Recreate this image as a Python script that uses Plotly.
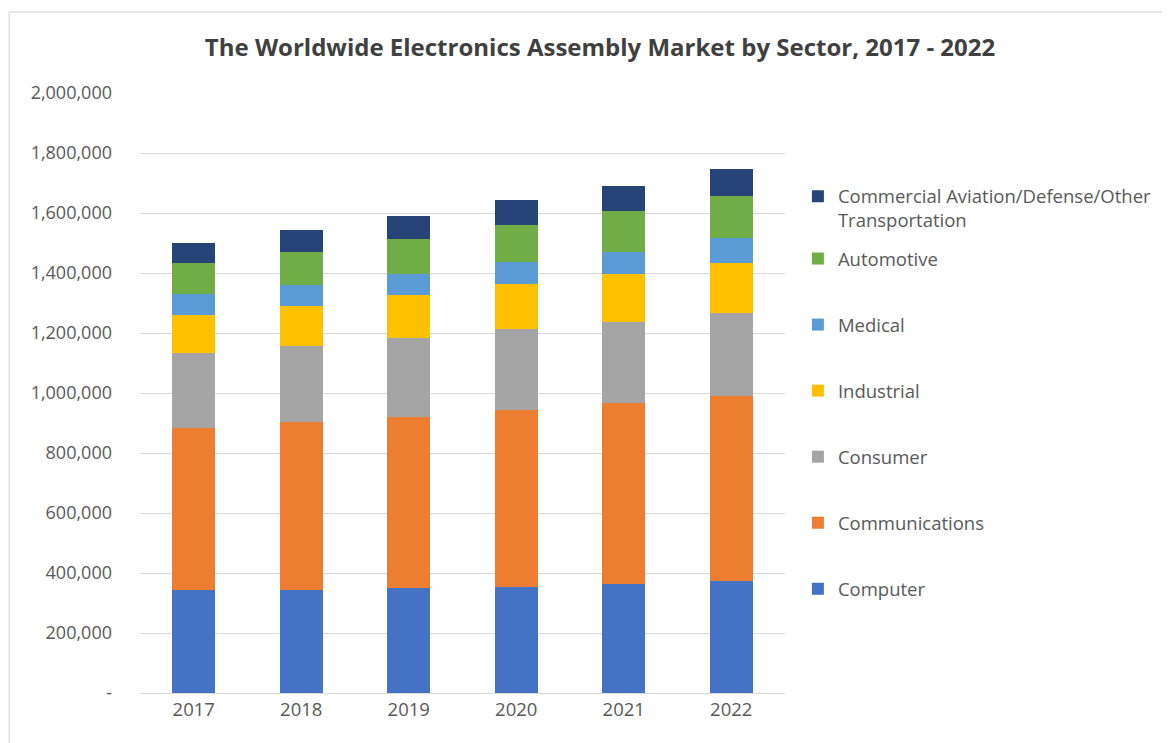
import plotly.graph_objects as go

years = ["2017", "2018", "2019", "2020", "2021", "2022"]
computer = [343000, 343000, 349000, 354000, 362000, 373000]
communications = [541000, 559000, 570000, 589000, 606000, 618000]
consumer = [250000, 256000, 263000, 269000, 268000, 275000]
industrial = [126000, 133000, 145000, 150000, 162000, 167000]
medical = [70000, 69000, 70000, 76000, 72000, 84000]
automotive = [102000, 111000, 115000, 122000, 138000, 140000]
other = [69000, 71000, 78000, 83000, 83000, 89000]

series = [
    ("Computer", computer, "#4472C4", "legend"),
    ("Communications", communications, "#ED7D31", "legend"),
    ("Consumer", consumer, "#A5A5A5", "legend"),
    ("Industrial", industrial, "#FFC000", "legend"),
    ("Medical", medical, "#5B9BD5", "legend"),
    ("Automotive", automotive, "#70AD47", "legend"),
    ("Commercial Aviation/Defense/Other<br>Transportation", other, "#264478", "legend2"),
]

tick_vals = [0, 200000, 400000, 600000, 800000, 1000000, 1200000, 1400000, 1600000, 1800000, 2000000]
tick_text = ["-", "200,000", "400,000", "600,000", "800,000", "1,000,000", "1,200,000",
             "1,400,000", "1,600,000", "1,800,000", "2,000,000"]

fig = go.Figure()
n = len(series)
for i, (name, vals, color, leg) in enumerate(series):
    fig.add_trace(go.Bar(x=years, y=vals, name=name, marker_color=color,
                         marker_line_width=0, legendgroup=f"g{i}", legend=leg,
                         legendrank=1000 - i * 10))

legend_font = dict(size=18.5, color="#595959", family="Open Sans, sans-serif")

fig.update_layout(
    barmode="stack",
    bargap=0.6,
    width=1170, height=743,
    margin=dict(l=132, r=393, t=85, b=58),
    paper_bgcolor="white", plot_bgcolor="white",
    font=dict(family="Open Sans, sans-serif", color="#595959", size=18),
    title=dict(text="<b>The Worldwide Electronics Assembly Market by Sector, 2017 - 2022</b>",
               x=0.506, xanchor="center", y=0.947, yanchor="middle",
               font=dict(size=24, color="#404040")),
    legend=dict(traceorder="grouped", x=1.02, xanchor="left", y=0.755, yanchor="top",
                font=legend_font, tracegroupgap=39, itemwidth=30),
    legend2=dict(x=1.02, xanchor="left", y=0.859, yanchor="top",
                 font=legend_font, valign="top", itemwidth=30),
    showlegend=True,
)
fig.update_yaxes(range=[0, 2000000], tickvals=tick_vals, ticktext=tick_text,
                 showgrid=True, gridcolor="#D9D9D9", gridwidth=1, zeroline=False,
                 ticks="", ticklabelstandoff=27, showline=False,
                 tickfont=dict(size=18))
fig.update_xaxes(showline=True, linecolor="#D9D9D9", linewidth=1, ticks="",
                 tickfont=dict(size=18.5))

fig.add_shape(type="rect", xref="paper", yref="paper", x0=-0.203, x1=1.62, y0=-0.12, y1=1.135,
              line=dict(color="#D0D0D0", width=1), layer="below")

fig.write_html("out.html")
